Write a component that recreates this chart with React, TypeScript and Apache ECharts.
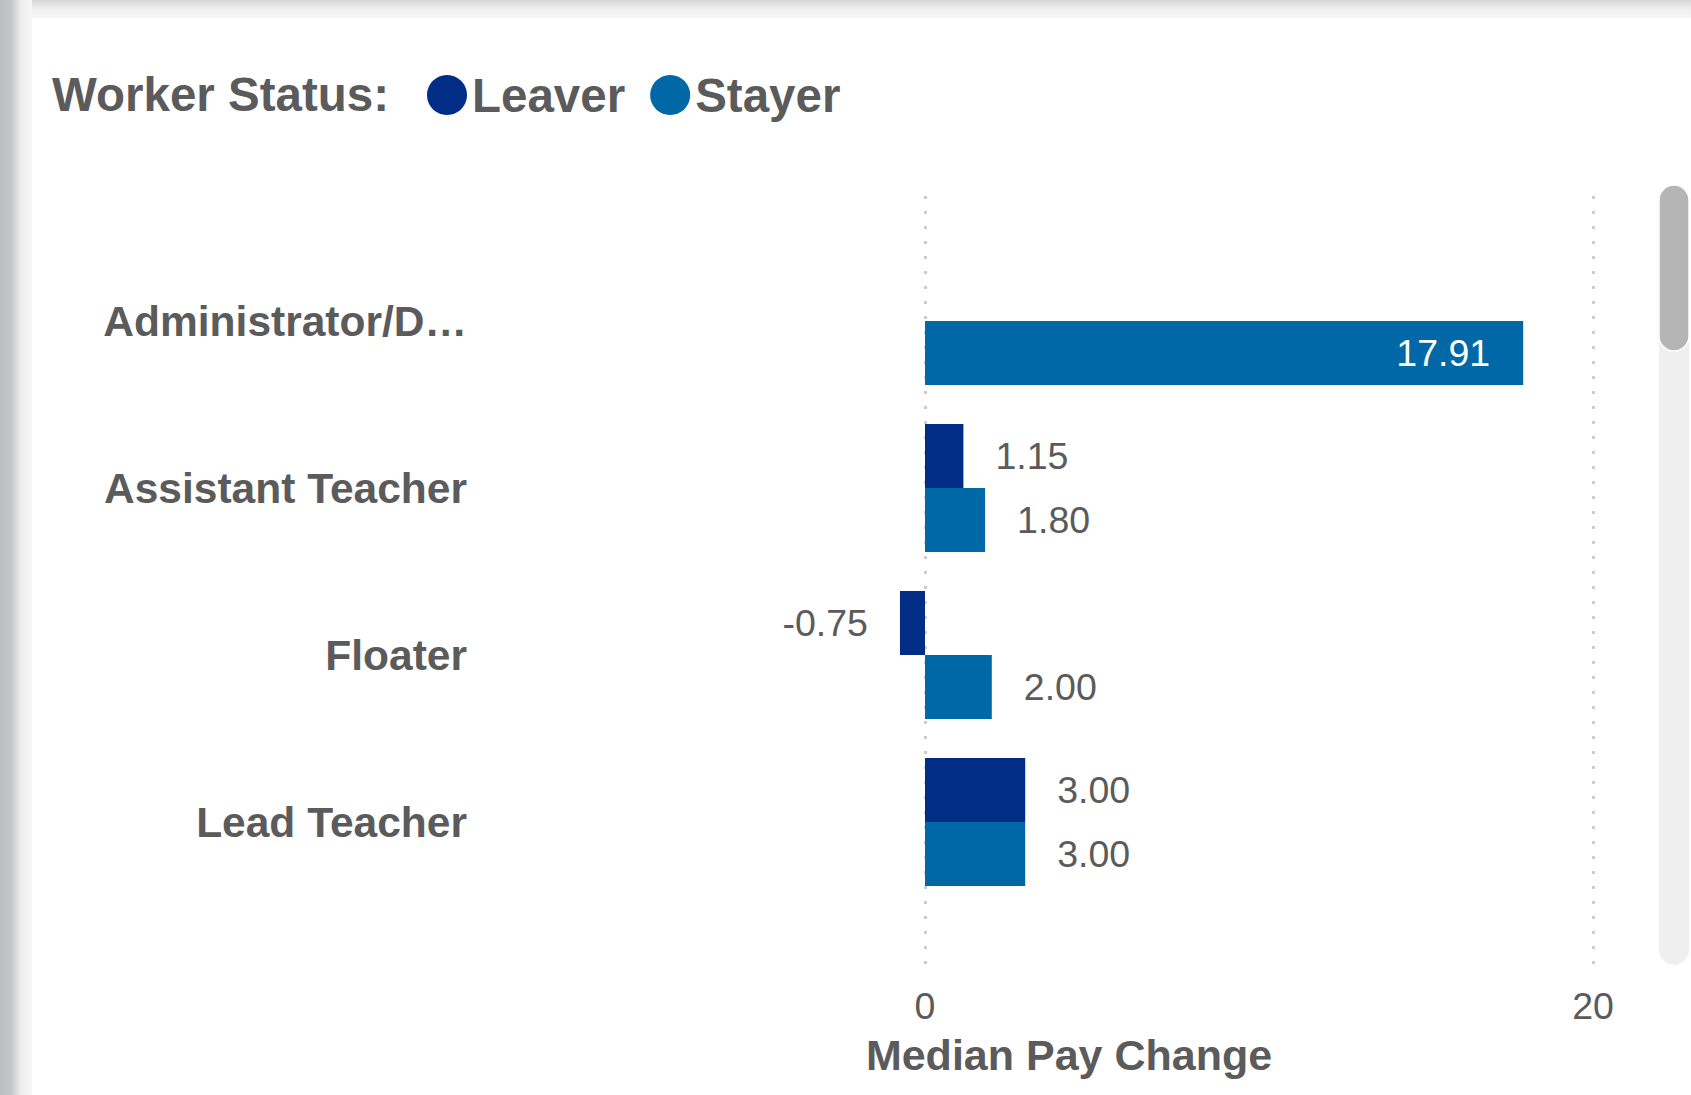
import React, { useEffect, useRef } from 'react';
import * as echarts from 'echarts';

const categories = ['Administrator/Director', 'Assistant Teacher', 'Floater', 'Lead Teacher'];
const seriesNames = ['Leaver', 'Stayer'];
const leaverValues: (number | null)[] = [null, 1.15, -0.75, 3.0];
const stayerValues: (number | null)[] = [17.91, 1.8, 2.0, 3.0];
const seriesColors = ['#012D86', '#0068A6'];
const legendTitle = 'Worker Status:';
const axisTitle = 'Median Pay Change';
const axisMin = -20;
const axisMax = 20;
const axisInterval = 20;

const FONT = '"Liberation Sans", Arial, Helvetica, sans-serif';
const TEXT = '#5b5b5b';

function toItems(vals: (number | null)[]) {
  return vals.map((v) => {
    if (v == null) return null;
    return {
      value: v,
      label:
        v > 15
          ? { position: 'insideRight', color: '#ffffff', distance: 33 }
          : { position: v < 0 ? 'left' : 'right', distance: 32 },
    };
  });
}

export default function App() {
  const ref = useRef<HTMLDivElement>(null);
  useEffect(() => {
    if (!ref.current) return;
    const chart = echarts.init(ref.current, undefined, { renderer: 'svg' });
    const labelBase = {
      show: true,
      fontSize: 37.5,
      fontFamily: FONT,
      color: TEXT,
      formatter: (p: any) => Number(p.value).toFixed(2),
    };
    const allValues = [leaverValues, stayerValues];
    chart.setOption({
      animation: false,
      backgroundColor: '#ffffff',
      textStyle: { fontFamily: FONT },
      graphic: [
        {
          type: 'rect',
          silent: true,
          shape: { x: 0, y: 0, width: 1691, height: 18 },
          style: {
            fill: {
              type: 'linear', x: 0, y: 0, x2: 0, y2: 1,
              colorStops: [
                { offset: 0, color: '#d6d6d6' },
                { offset: 0.55, color: '#f1f1f1' },
                { offset: 1, color: '#f5f5f5' },
              ],
            },
          },
        },
        {
          type: 'rect',
          silent: true,
          shape: { x: 0, y: 0, width: 32, height: 1095 },
          style: {
            fill: {
              type: 'linear', x: 0, y: 0, x2: 1, y2: 0,
              colorStops: [
                { offset: 0, color: '#bcbdbf' },
                { offset: 0.35, color: '#c3c4c6' },
                { offset: 0.65, color: '#eeeeee' },
                { offset: 1, color: '#f5f5f5' },
              ],
            },
          },
        },
        {
          type: 'rect',
          silent: true,
          shape: { x: 1659, y: 185, width: 30, height: 780, r: 15 },
          style: { fill: '#efefef' },
        },
        {
          type: 'rect',
          silent: true,
          shape: { x: 1659, y: 185, width: 30, height: 166, r: 15 },
          style: { fill: '#b5b5b5', stroke: '#ffffff', lineWidth: 1.5 },
        },
        {
          type: 'text',
          silent: true,
          x: 52,
          y: 94,
          style: {
            text: legendTitle,
            font: `bold 47.5px ${FONT}`,
            fill: TEXT,
            textAlign: 'left',
            textVerticalAlign: 'middle',
          },
        },
        {
          type: 'text',
          silent: true,
          x: 1069,
          y: 1055,
          style: {
            text: axisTitle,
            font: `bold 43px ${FONT}`,
            fill: TEXT,
            textAlign: 'center',
            textVerticalAlign: 'middle',
          },
        },
      ],
      legend: {
        data: seriesNames,
        left: 422,
        top: 66,
        icon: 'circle',
        itemWidth: 40,
        itemHeight: 40,
        itemGap: 25,
        selectedMode: false,
        textStyle: { fontSize: 47.5, fontWeight: 'bold', color: TEXT, fontFamily: FONT },
      },
      grid: [
        { left: 257, right: 98, top: 237.5, height: 668 },
        { left: 257, right: 98, top: 196, bottom: 130 },
      ],
      xAxis: [
        { gridIndex: 0, type: 'value', min: axisMin, max: axisMax, interval: axisInterval, show: false },
        {
          gridIndex: 1,
          type: 'value',
          min: axisMin,
          max: axisMax,
          interval: axisInterval,
          axisLine: { show: false },
          axisTick: { show: false },
          axisLabel: {
            showMinLabel: false,
            fontSize: 37.5,
            color: TEXT,
            fontFamily: FONT,
            margin: 22,
          },
          splitLine: {
            show: true,
            showMinLine: false,
            lineStyle: { type: [3, 12], width: 3, color: '#cdcdcd' },
          },
        },
      ],
      yAxis: [
        {
          gridIndex: 0,
          type: 'category',
          data: categories,
          inverse: true,
          axisLine: { show: false },
          axisTick: { show: false },
          splitLine: { show: false },
          axisLabel: {
            margin: -210,
            fontSize: 42.5,
            fontWeight: 'bold',
            color: TEXT,
            fontFamily: FONT,
            width: 370,
            overflow: 'truncate',
            ellipsis: '…',
          },
        },
        { gridIndex: 1, type: 'value', min: 0, max: 1, show: false },
      ],
      series: seriesNames.map((name, i) => ({
        type: 'bar',
        name,
        xAxisIndex: 0,
        yAxisIndex: 0,
        data: toItems(allValues[i]),
        barWidth: 64,
        barGap: '0%',
        itemStyle: { color: seriesColors[i] },
        label: labelBase,
      })),
    });
    return () => chart.dispose();
  }, []);
  return (
    <div
      ref={ref}
      style={{ position: 'fixed', left: 0, top: 0, width: 1691, height: 1095 }}
    />
  );
}
